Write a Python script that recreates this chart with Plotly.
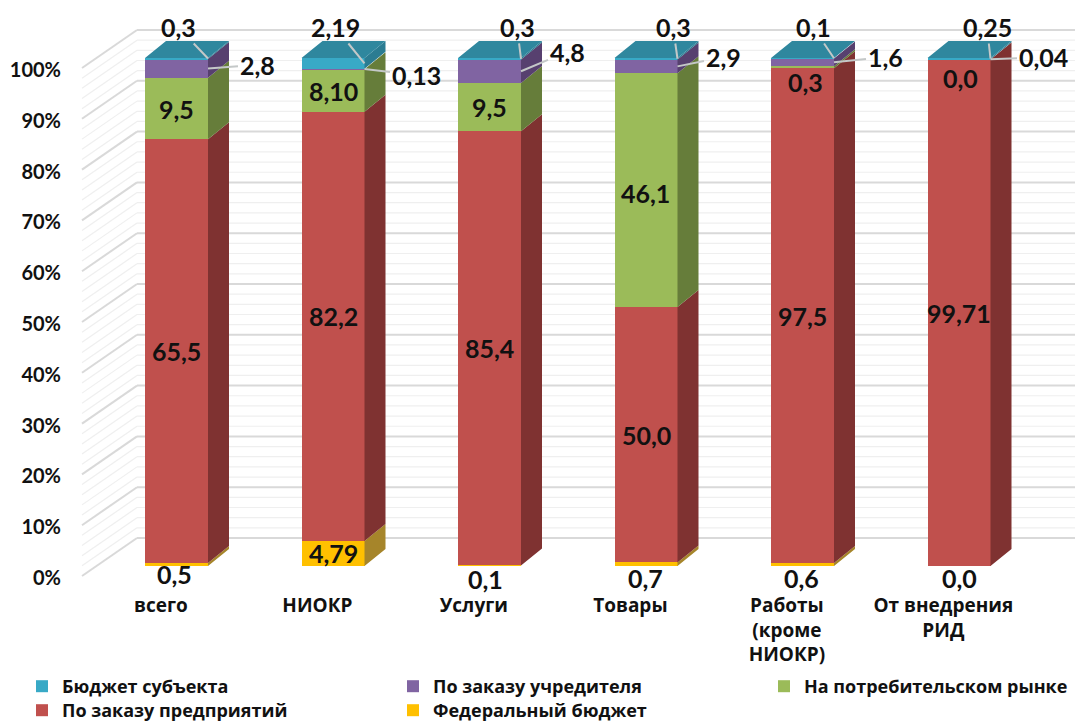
import plotly.graph_objects as go

# ---------- data ----------
categories = ["всего", "НИОКР", "Услуги", "Товары", "Работы<br>(кроме<br>НИОКР)", "От внедрения<br>РИД"]
percent_ticks = list(range(0, 101, 10))

federal = [0.6, 4.9, 0.1, 0.7, 0.6, 0.0]
enterprise = [83.4, 84.5, 85.5, 50.3, 97.4, 99.71]
consumer = [12.1, 8.4, 9.5, 46.0, 0.4, 0.0]
founder = [3.7, 0.1, 4.6, 2.7, 1.5, 0.04]
regional = [0.2, 2.1, 0.3, 0.3, 0.1, 0.25]

federal_labels = ["0,5", "4,79", "0,1", "0,7", "0,6", "0,0"]
enterprise_labels = ["65,5", "82,2", "85,4", "50,0", "97,5", "99,71"]
consumer_labels = ["9,5", "8,10", "9,5", "46,1", "0,3", "0,0"]
founder_labels = ["2,8", "0,13", "4,8", "2,9", "1,6", "0,04"]
regional_labels = ["0,3", "2,19", "0,3", "0,3", "0,1", "0,25"]

series = [
    ("Федеральный бюджет", federal, "#FFC000", "#A6852A", "legend5"),
    ("По заказу предприятий", enterprise, "#C0504D", "#7F3231", "legend4"),
    ("На потребительском рынке", consumer, "#9BBB59", "#667D3A", "legend3"),
    ("По заказу учредителя", founder, "#8064A2", "#57406F", "legend2"),
    ("Бюджет субъекта", regional, "#38A9C6", "#2B7C92", "legend"),
]
top_colour = "#2F879E"

# ---------- geometry of the drawing ----------
W, H = 1080, 724
PX_X = 156.5          # pixels per category
PX_Y = 5.08           # pixels per percent
X0_PX, Y0_PX = 176.5, 566
AXIS_LEFT, AXIS_BOTTOM = 62, 592
BAR_W = 63 / PX_X
DX, DY = 21 / PX_X, 17 / PX_Y
FRONT_X, FRONT_Y = (82 - X0_PX) / PX_X, -10 / PX_Y
BACK_X, BACK_Y = (137 - X0_PX) / PX_X, (566 - 538) / PX_Y
GRID_END = (1075 - X0_PX) / PX_X
TICK_NUDGE = -2 / PX_Y

xs = list(range(len(categories)))
fig = go.Figure()

# wall lines (behind the bars)
shapes = []
for v in range(0, 101, 2):
    major = v % 10 == 0
    col = "#D9D9D9" if major else "#EFEFEF"
    wid = 2 if major else 1.2
    shapes.append(dict(type="line", layer="below", xref="x", yref="y", x0=FRONT_X, y0=v + FRONT_Y,
                       x1=BACK_X, y1=v + BACK_Y, line=dict(color=col, width=wid)))
    shapes.append(dict(type="line", layer="below", xref="x", yref="y", x0=BACK_X, y0=v + BACK_Y,
                       x1=GRID_END, y1=v + BACK_Y, line=dict(color=col, width=wid)))

# front faces
for name, vals, col, dark, leg in series:
    fig.add_trace(go.Bar(x=xs, y=vals, name=name, marker=dict(color=col, line=dict(width=0)),
                         width=BAR_W, legend=leg, hoverinfo="y+name"))

# side faces and top, derived from the stack
base = [0.0] * len(xs)
for name, vals, col, dark, leg in series:
    px, py = [], []
    for i, v in enumerate(vals):
        r = i + BAR_W / 2
        b, t = base[i], base[i] + v
        px += [r, r + DX, r + DX, r, r, None]
        py += [b, b + DY, t + DY, t, b, None]
        base[i] = t
    fig.add_trace(go.Scatter(x=px, y=py, mode="lines", line=dict(width=0), fill="toself", fillcolor=dark,
                             showlegend=False, hoverinfo="skip"))
px, py = [], []
for i, t in enumerate(base):
    l, r = i - BAR_W / 2, i + BAR_W / 2
    px += [l, r, r + DX, l + DX, l, None]
    py += [t, t, t + DY, t + DY, t, None]
fig.add_trace(go.Scatter(x=px, y=py, mode="lines", line=dict(width=0), fill="toself", fillcolor=top_colour,
                         showlegend=False, hoverinfo="skip"))

# ---------- labels ----------
LABEL = dict(family="Lato, sans-serif", size=25, color="#111111", weight="bold")
LEADER = "#C4C8C8"
annotations = []


def cum(i, upto):
    return sum(s[1][i] for s in series[:upto])


enterprise_shift = [0, 10, 0, 0, 0, 0]
federal_centres = [(174, 574), (333, 553), (485, 579), (645, 578), (801, 578), (959, 578)]
consumer_centres = [(176, 109), (333, 91), (489, 107), (645, 193), (805, 82), (960, 78)]
regional_centres = [(178, 27), (335, 27), (517, 27), (673, 27), (813, 27), (987, 27)]
founder_centres = [(257, 65), (416, 75), (567, 52), (723, 57), (885, 57), (1043, 57)]


def to_x(p):
    return (p - X0_PX) / PX_X


def to_y(p):
    return (Y0_PX - p) / PX_Y


for i in xs:
    annotations.append(dict(x=i, y=cum(i, 1) + enterprise[i] / 2, yshift=enterprise_shift[i], text=enterprise_labels[i],
                            showarrow=False, font=LABEL))
    cx, cy = federal_centres[i]
    annotations.append(dict(x=to_x(cx), y=to_y(cy), text=federal_labels[i], showarrow=False, font=LABEL))
    cx, cy = consumer_centres[i]
    annotations.append(dict(x=to_x(cx), y=to_y(cy), text=consumer_labels[i], showarrow=False, font=LABEL))
    # leader-line labels: the point sits on the right edge of the segment
    right = i + BAR_W / 2
    seg_top = cum(i, 5) - regional[i] / 2
    seg_founder = cum(i, 4) - founder[i] / 2
    cx, cy = regional_centres[i]
    annotations.append(dict(x=right, y=seg_top, text=regional_labels[i], showarrow=True, arrowhead=0, arrowwidth=2,
                            arrowcolor=LEADER, axref="pixel", ayref="pixel",
                            ax=cx - (X0_PX + right * PX_X), ay=cy - (Y0_PX - seg_top * PX_Y),
                            standoff=0, font=LABEL))
    cx, cy = founder_centres[i]
    annotations.append(dict(x=right, y=seg_founder, text=founder_labels[i], showarrow=True, arrowhead=0, arrowwidth=2,
                            arrowcolor=LEADER, axref="pixel", ayref="pixel",
                            ax=cx - (X0_PX + right * PX_X), ay=cy - (Y0_PX - seg_founder * PX_Y),
                            standoff=0, font=LABEL))

LEGEND_FONT = dict(family="Open Sans, sans-serif", size=18, color="#111111", weight="bold")


def entry(x_px, top_px):
    return dict(x=x_px / W, xanchor="left", y=(H - top_px) / H, yanchor="top", font=LEGEND_FONT,
                bgcolor="rgba(0,0,0,0)", borderwidth=0)


fig.update_layout(
    width=W, height=H, autosize=False,
    margin=dict(l=0, r=0, t=0, b=0, pad=0, autoexpand=False),
    paper_bgcolor="white", plot_bgcolor="white",
    barmode="stack", bargap=0,
    shapes=shapes, annotations=annotations,
    font=dict(family="Lato, sans-serif", color="#111111"),
    xaxis=dict(domain=[AXIS_LEFT / W, 1], anchor="free", position=(H - AXIS_BOTTOM) / H,
               range=[(AXIS_LEFT - X0_PX) / PX_X, (W - X0_PX) / PX_X],
               tickmode="array", tickvals=[i - 0.1 for i in xs], ticktext=categories,
               showgrid=False, zeroline=False, showline=False, ticks="", automargin=False,
               tickfont=dict(family="Open Sans, sans-serif", size=19, color="#111111", weight="bold"),
               tickangle=0),
    yaxis=dict(domain=[0, 1], range=[(Y0_PX - H) / PX_Y, Y0_PX / PX_Y], automargin=False,
               tickmode="array", tickvals=[v + FRONT_Y + TICK_NUDGE for v in percent_ticks],
               ticktext=[f"{v}%" for v in percent_ticks],
               showgrid=False, zeroline=False, showline=False, ticks="",
               tickfont=dict(family="Lato, sans-serif", size=20, color="#111111", weight="bold")),
    legend=entry(22, 668),
    legend2=entry(393, 668),
    legend3=entry(764, 668),
    legend4=entry(22, 692),
    legend5=entry(393, 692),
)

fig.write_html("out.html", config=dict(displayModeBar=False), post_script="document.body.style.margin='0';")
